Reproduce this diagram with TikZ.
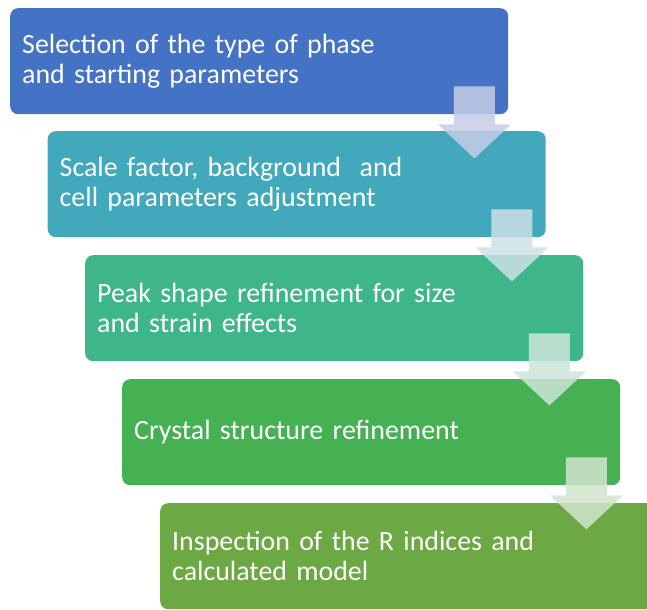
\documentclass[tikz,border=0pt]{standalone}
\usepackage{fontspec}
\setmainfont{Carlito}
\definecolor{c1}{HTML}{4472C4}
\definecolor{c2}{HTML}{42A8BC}
\definecolor{c3}{HTML}{3FB68A}
\definecolor{c4}{HTML}{46B152}
\definecolor{c5}{HTML}{6CA843}
\definecolor{a1}{HTML}{C6CCE8}
\definecolor{a2}{HTML}{CDE1E7}
\definecolor{a3}{HTML}{CDE4D9}
\definecolor{a4}{HTML}{D2E4CE}
\tikzset{
  stepbox/.style={draw=none, rounded corners=8bp, anchor=north west,
    minimum width=498bp, minimum height=106bp, text width=474bp,
    inner xsep=12bp, inner ysep=0bp, align=left, text=white,
    font=\fontsize{28}{30.5}\selectfont},
  downarrow/.style={fill opacity=0.85, draw=none}
}
\newcommand{\dnarrow}[2]{%
  \fill[downarrow, #2] ([shift={(-54.5,28)}]#1.south east) -- ++(41,0) -- ++(0,-38)
    -- ++(16,0) -- ++(-36.5,-34) -- ++(-36.5,34) -- ++(16,0) -- cycle;}
\begin{document}
\begin{tikzpicture}[x=1bp,y=1bp]
\useasboundingbox (0,0) rectangle (647,-610);
\begin{scope}
\clip (0,0) rectangle (647,-610);
\node[stepbox, fill=c1] (b1) at (10,-8) {Selection of the type of phase\\and starting parameters};
\node[stepbox, fill=c2] (b2) at (47.5,-131) {Scale factor, background\ \ and\\cell parameters adjustment};
\node[stepbox, fill=c3] (b3) at (85,-255) {Peak shape refinement for size\\and strain effects};
\node[stepbox, fill=c4] (b4) at (122,-379) {Crystal structure refinement};
\node[stepbox, fill=c5] (b5) at (160,-503) {Inspection of the R indices and\\calculated model};
\dnarrow{b1}{fill=a1}
\dnarrow{b2}{fill=a2}
\dnarrow{b3}{fill=a3}
\dnarrow{b4}{fill=a4}
\end{scope}
\end{tikzpicture}
\end{document}
